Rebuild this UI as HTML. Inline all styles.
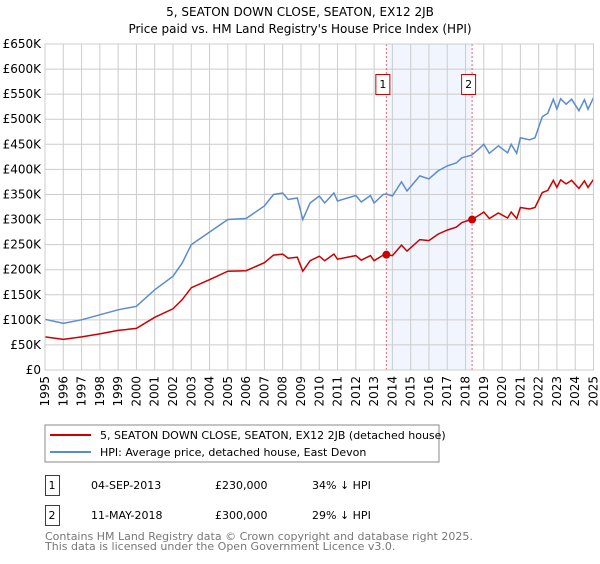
<!DOCTYPE html>
<html><head><meta charset="utf-8"><style>
body{margin:0;background:#fff;font-family:"DejaVu Sans","Liberation Sans",sans-serif;}
svg text{font-family:"DejaVu Sans","Liberation Sans",sans-serif;}
</style></head><body>
<svg id="chart" width="600" height="560" xmlns="http://www.w3.org/2000/svg">
<text x="300" y="16" text-anchor="middle" font-size="12">5, SEATON DOWN CLOSE, SEATON, EX12 2JB</text>
<text x="300" y="33" text-anchor="middle" font-size="12">Price paid vs. HM Land Registry's House Price Index (HPI)</text>
<g id="grid"></g><g id="marks"></g><g id="axes"></g>
<rect x="45" y="425" width="394" height="37" fill="#fff" stroke="#888"/>
<line x1="50" y1="435" x2="91" y2="435" stroke="#cc0000" stroke-width="2"/>
<text x="100" y="439" font-size="11">5, SEATON DOWN CLOSE, SEATON, EX12 2JB (detached house)</text>
<line x1="50" y1="452" x2="91" y2="452" stroke="#5b8bd0" stroke-width="2"/>
<text x="100" y="456" font-size="11">HPI: Average price, detached house, East Devon</text>
<g>
<rect x="45.5" y="475.5" width="14" height="20" fill="#fff" stroke="#cc0000"/>
<text x="52" y="489" font-size="11" text-anchor="middle">1</text>
<text x="91" y="489" font-size="11">04-SEP-2013</text>
<text x="215" y="489" font-size="11">£230,000</text>
<text x="312" y="489" font-size="11">34% ↓ HPI</text>
</g>
<g>
<rect x="45.5" y="505.5" width="14" height="20" fill="#fff" stroke="#cc0000"/>
<text x="52" y="519" font-size="11" text-anchor="middle">2</text>
<text x="91" y="519" font-size="11">11-MAY-2018</text>
<text x="215" y="519" font-size="11">£300,000</text>
<text x="312" y="519" font-size="11">29% ↓ HPI</text>
</g>
<text x="45" y="540" font-size="11" fill="#777">Contains HM Land Registry data © Crown copyright and database right 2025.</text>
<text x="45" y="550" font-size="11" fill="#777">This data is licensed under the Open Government Licence v3.0.</text>
</svg>
<script>
const years=[1995,1996,1997,1998,1999,2000,2001,2002,2002.5,2003,2004,2005,2006,2007,2007.5,2008,2008.3,2008.8,2009.1,2009.5,2010,2010.3,2010.8,2011,2012,2012.3,2012.8,2013,2013.5,2013.67,2014,2014.5,2014.8,2015.5,2016,2016.5,2017,2017.5,2017.8,2018.3,2018.36,2018.8,2019,2019.3,2019.8,2020.3,2020.5,2020.8,2021,2021.5,2021.8,2022.2,2022.5,2022.8,2023,2023.2,2023.5,2023.8,2024.2,2024.5,2024.7,2025];
const hpiValues=[101,93,100,110,120,127,160,187,213,250,275,300,302,327,350,353,340,343,300,333,347,333,353,337,348,335,348,333,350,351,347,375,357,387,381,397,407,413,423,428,429,443,450,432,447,433,450,432,463,459,463,505,512,540,520,541,530,540,517,539,520,543];
const propValues=[66,61,66,72,79,83,105,122,140,164,180,197,198,214,229,231,223,225,197,218,227,218,231,221,228,219,228,218,229,230,228,249,237,260,258,271,279,285,294,300,300,310,315,302,313,303,315,302,324,321,324,354,358,378,364,379,371,378,362,377,364,380];
const saleYears=[2013.67,2018.36];
const salePrices=[230,300];
const saleLabels=["1","2"];
const yTicks=[0,50,100,150,200,250,300,350,400,450,500,550,600,650];
const yTickLabels=["£0","£50K","£100K","£150K","£200K","£250K","£300K","£350K","£400K","£450K","£500K","£550K","£600K","£650K"];
const xTicks=[1995,1996,1997,1998,1999,2000,2001,2002,2003,2004,2005,2006,2007,2008,2009,2010,2011,2012,2013,2014,2015,2016,2017,2018,2019,2020,2021,2022,2023,2024,2025];

const NS="http://www.w3.org/2000/svg";
const L=45,R=593.5,T=44,B=370;
const xs=y=>L+(y-1995)/30*(R-L);
const ys=v=>B-v/650*(B-T);
function mk(p,tag,at){const e=document.createElementNS(NS,tag);for(const k in at)e.setAttribute(k,at[k]);p.appendChild(e);return e;}
const grid=document.getElementById('grid'),marks=document.getElementById('marks'),axes=document.getElementById('axes');
const shade=mk(grid,'rect',{x:xs(saleYears[0]),y:T,width:xs(saleYears[1])-xs(saleYears[0]),height:B-T,fill:'#eef3fd',opacity:0.8});


yTicks.forEach((v,i)=>{
 const g=mk(grid,'line',{x1:L,x2:R,y1:ys(v),y2:ys(v),stroke:'#ccc','stroke-width':1});
 
 
 const t=mk(axes,'text',{x:L-4,y:ys(v)+4,'text-anchor':'end','font-size':12});
 t.textContent=yTickLabels[i];
 
 
});
xTicks.forEach(y=>{
 const g=mk(grid,'line',{x1:xs(y),x2:xs(y),y1:T,y2:B,stroke:'#ccc','stroke-width':1});
 
 
 const t=mk(axes,'text',{x:0,y:0,'text-anchor':'end','font-size':12,transform:`translate(${xs(y)+4},${B+6}) rotate(-90)`});
 t.textContent=y;
 
 
});
saleYears.forEach((y,i)=>{
 const l=mk(marks,'line',{x1:xs(y),x2:xs(y),y1:T,y2:B,stroke:'#e66','stroke-width':1,'stroke-dasharray':'2,2'});
 
 
});
const path=(vals)=>years.map((y,i)=>(i?'L':'M')+xs(y).toFixed(1)+','+ys(vals[i]).toFixed(1)).join('');
const hp=mk(marks,'path',{d:path(hpiValues),fill:'none',stroke:'#5b8bd0','stroke-width':1.5});


const pp=mk(marks,'path',{d:path(propValues),fill:'none',stroke:'#cc0000','stroke-width':1.5});


saleYears.forEach((y,i)=>{
 const d=mk(marks,'circle',{cx:xs(y),cy:ys(salePrices[i]),r:4,fill:'#cc0000'});
 
 
 const b=mk(marks,'rect',{x:xs(y)-10.5,y:74.5,width:14,height:20,fill:'#fff',stroke:'#cc0000'});
 
 
 const t=mk(marks,'text',{x:xs(y)-3.5,y:88,'text-anchor':'middle','font-size':11});
 t.textContent=saleLabels[i];
 
 
});
const fr=mk(axes,'rect',{x:L,y:T,width:R-L,height:B-T,fill:'none',stroke:'#ccc'});


</script>
</body></html>
